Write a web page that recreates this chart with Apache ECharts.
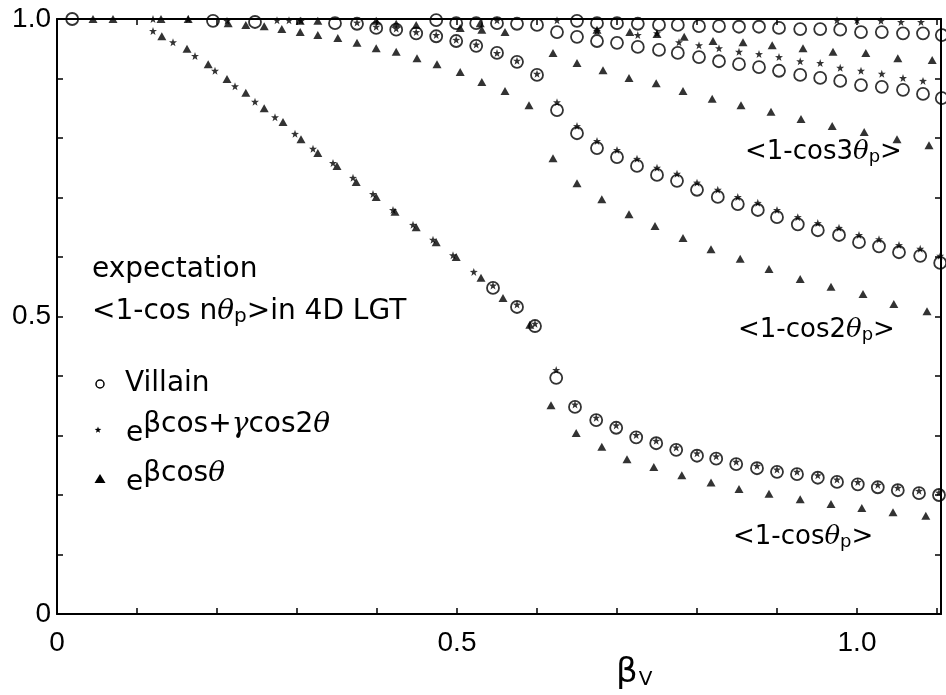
<!DOCTYPE html>
<html>
<head>
<meta charset="utf-8">
<script src="https://cdn.jsdelivr.net/npm/echarts/dist/echarts.min.js"></script>
<style>
  html, body { margin: 0; padding: 0; background: #fff; }
  #chart { width: 946px; height: 695px; }
</style>
</head>
<body>
<div id="chart"></div>
<script>
// <1 - cos n theta_p> versus beta_V, three actions, n = 1..4
// Each array holds [beta_V, expectation] pairs.

// n = 1
const villainN1 = [[0.019,1.0],[0.545,0.548],[0.575,0.516],[0.5975,0.484],[0.624,0.397],[0.6475,0.348],[0.674,0.326],[0.699,0.313],[0.724,0.297],[0.749,0.287],[0.774,0.276],[0.80,0.266],[0.824,0.261],[0.849,0.252],[0.875,0.245],[0.90,0.239],[0.925,0.235],[0.951,0.229],[0.975,0.222],[1.001,0.218],[1.026,0.213],[1.051,0.208],[1.0775,0.203],[1.1025,0.200]];
const mixedN1 = [[0.12,0.980],[0.145,0.961],[0.1725,0.938],[0.1975,0.913],[0.2225,0.887],[0.2475,0.861],[0.2725,0.835],[0.2975,0.807],[0.32,0.782],[0.345,0.758],[0.37,0.733],[0.395,0.706],[0.42,0.679],[0.445,0.654],[0.47,0.629],[0.495,0.603],[0.521,0.575],[0.545,0.552],[0.575,0.520],[0.5975,0.488],[0.624,0.410],[0.6475,0.352],[0.674,0.330],[0.699,0.317],[0.724,0.301],[0.749,0.291],[0.774,0.280],[0.80,0.270],[0.824,0.265],[0.849,0.256],[0.875,0.249],[0.90,0.243],[0.925,0.239],[0.951,0.233],[0.975,0.226],[1.001,0.222],[1.026,0.217],[1.051,0.212],[1.0775,0.207],[1.1025,0.204]];
const cosineN1 = [[0.045,1.0],[0.07,1.0],[0.131,0.971],[0.1625,0.950],[0.189,0.924],[0.2125,0.899],[0.236,0.876],[0.259,0.850],[0.2825,0.827],[0.305,0.798],[0.326,0.775],[0.35,0.753],[0.374,0.726],[0.399,0.701],[0.4225,0.676],[0.449,0.650],[0.474,0.625],[0.499,0.600],[0.53,0.565],[0.5575,0.531],[0.591,0.486],[0.6175,0.351],[0.649,0.304],[0.681,0.281],[0.7125,0.260],[0.746,0.247],[0.781,0.233],[0.8175,0.221],[0.8525,0.210],[0.89,0.202],[0.929,0.193],[0.9675,0.185],[1.006,0.178],[1.045,0.171],[1.086,0.165]];

// n = 2
const villainN2 = [[0.195,0.997],[0.2475,0.995],[0.3475,0.993],[0.375,0.992],[0.399,0.985],[0.424,0.982],[0.449,0.976],[0.474,0.971],[0.499,0.963],[0.524,0.955],[0.55,0.943],[0.575,0.928],[0.60,0.906],[0.625,0.847],[0.65,0.808],[0.675,0.783],[0.70,0.768],[0.725,0.753],[0.75,0.738],[0.775,0.728],[0.80,0.713],[0.826,0.701],[0.851,0.689],[0.876,0.679],[0.90,0.667],[0.926,0.655],[0.951,0.645],[0.9775,0.637],[1.0025,0.625],[1.0275,0.618],[1.0525,0.608],[1.079,0.602],[1.104,0.590]];
const mixedN2 = [[0.12,1.0],[0.164,1.0],[0.2125,0.997],[0.275,0.998],[0.29,0.998],[0.305,0.997],[0.375,0.994],[0.399,0.987],[0.424,0.984],[0.449,0.978],[0.474,0.973],[0.499,0.965],[0.524,0.957],[0.55,0.943],[0.575,0.930],[0.60,0.908],[0.625,0.860],[0.65,0.820],[0.675,0.795],[0.70,0.780],[0.725,0.765],[0.75,0.750],[0.775,0.740],[0.80,0.725],[0.826,0.713],[0.851,0.701],[0.876,0.691],[0.90,0.679],[0.926,0.667],[0.951,0.657],[0.9775,0.649],[1.0025,0.637],[1.0275,0.630],[1.0525,0.620],[1.079,0.614],[1.104,0.602]];
const cosineN2 = [[0.13,1.0],[0.164,1.0],[0.214,0.993],[0.236,0.990],[0.259,0.988],[0.281,0.983],[0.304,0.978],[0.326,0.973],[0.351,0.968],[0.375,0.960],[0.399,0.951],[0.424,0.945],[0.45,0.934],[0.475,0.924],[0.504,0.911],[0.531,0.894],[0.56,0.879],[0.59,0.855],[0.62,0.766],[0.65,0.724],[0.681,0.697],[0.715,0.672],[0.7475,0.652],[0.7825,0.632],[0.8175,0.613],[0.854,0.597],[0.89,0.580],[0.929,0.563],[0.9675,0.550],[1.0075,0.538],[1.046,0.521],[1.0875,0.509]];

// n = 3
const villainN3 = [[0.625,0.978],[0.65,0.970],[0.675,0.963],[0.70,0.960],[0.726,0.953],[0.7525,0.948],[0.776,0.943],[0.8025,0.936],[0.8275,0.929],[0.8525,0.924],[0.8775,0.919],[0.9025,0.913],[0.929,0.906],[0.954,0.901],[0.979,0.896],[1.005,0.889],[1.031,0.886],[1.0575,0.881],[1.0825,0.874],[1.106,0.867]];
const mixedN3 = [[0.55,0.998],[0.675,0.98],[0.726,0.973],[0.75,0.976],[0.7775,0.961],[0.8025,0.956],[0.8275,0.951],[0.8525,0.945],[0.8775,0.941],[0.9025,0.936],[0.929,0.929],[0.954,0.926],[0.979,0.918],[1.005,0.913],[1.031,0.908],[1.0575,0.901],[1.0825,0.896]];
const cosineN3 = [[0.304,0.997],[0.326,0.997],[0.399,0.997],[0.424,0.992],[0.449,0.990],[0.504,0.985],[0.531,0.982],[0.56,0.978],[0.62,0.943],[0.65,0.926],[0.6825,0.914],[0.715,0.901],[0.749,0.892],[0.7825,0.879],[0.819,0.866],[0.855,0.855],[0.8925,0.844],[0.93,0.832],[0.969,0.820],[1.009,0.810],[1.05,0.798],[1.09,0.788]];

// n = 4
const villainN4 = [[0.474,0.998],[0.499,0.993],[0.524,0.993],[0.55,0.993],[0.575,0.992],[0.60,0.990],[0.65,0.997],[0.675,0.993],[0.70,0.993],[0.726,0.992],[0.7525,0.990],[0.776,0.990],[0.8025,0.988],[0.8275,0.988],[0.8525,0.987],[0.8775,0.987],[0.9025,0.985],[0.929,0.983],[0.954,0.983],[0.979,0.982],[1.005,0.978],[1.031,0.978],[1.0575,0.976],[1.0825,0.976],[1.106,0.973]];
const mixedN4 = [[0.625,0.998],[0.975,0.998],[1.0,0.998],[1.03,0.997],[1.055,0.995],[1.08,0.995]];
const cosineN4 = [[0.529,0.993],[0.675,0.982],[0.716,0.978],[0.75,0.975],[0.784,0.970],[0.82,0.963],[0.8575,0.961],[0.894,0.956],[0.9325,0.951],[0.97,0.945],[1.011,0.943],[1.051,0.934],[1.094,0.931]];

// Axis ranges and labelled ticks
const xRange = [0, 1.105];
const yRange = [0, 1.0];
const xTickLabels = [[0, '0'], [0.5, '0.5'], [1.0, '1.0']];
const yTickLabels = [[0, '0'], [0.5, '0.5'], [1.0, '1.0']];

const STAR = 'path://M0,-10L2.35,-3.24L9.51,-3.09L3.8,1.24L5.88,8.09L0,4.1L-5.88,8.09L-3.8,1.24L-9.51,-3.09L-2.35,-3.24Z';
const INK = '#000';

function tickFormatter(list) {
  return function (v) {
    for (const [val, txt] of list) if (Math.abs(v - val) < 1e-6) return txt;
    return '';
  };
}

function villain(data) {
  return { type: 'scatter', data, symbol: 'circle', symbolSize: 12, clip: false, z: 3,
    silent: true, itemStyle: { color: 'rgba(0,0,0,0)', borderColor: INK, borderWidth: 1.8 } };
}
function mixed(data) {
  return { type: 'scatter', data, symbol: STAR, symbolSize: 8, clip: false, z: 4,
    silent: true, itemStyle: { color: INK } };
}
function cosine(data) {
  return { type: 'scatter', data, symbol: 'triangle', symbolSize: [9, 8], clip: false, z: 4,
    silent: true, itemStyle: { color: INK } };
}

const sans = '"DejaVu Sans", sans-serif';
const axisFont = '"Liberation Sans", Arial, sans-serif';

function axisCommon(extra) {
  return Object.assign({
    type: 'value',
    splitLine: { show: false },
    axisLine: { show: true, onZero: false, lineStyle: { color: INK, width: 2 } },
    axisTick: { show: true, inside: true, length: 6, lineStyle: { color: INK, width: 1.5 } },
  }, extra);
}

const chart = echarts.init(document.getElementById('chart'), null, { renderer: 'canvas' });

const texts = [];
function label(x, y, text, rich, size) {
  texts.push({
    type: 'text', x, y, silent: true,
    style: { text, font: size + 'px ' + sans, fill: INK, textVerticalAlign: 'middle', rich }
  });
}

const thetaRich = function (size) {
  return {
    n: { fontFamily: sans, fontSize: size, color: INK },
    t: { fontFamily: '"DejaVu Serif", serif', fontStyle: 'italic', fontSize: size, color: INK },
    s: { fontFamily: sans, fontSize: Math.round(size * 0.7), color: INK, padding: [10, 0, 0, 0] },
    u: { fontFamily: sans, fontSize: size, color: INK, padding: [0, 0, 18, 0] },
    ut: { fontFamily: '"DejaVu Serif", serif', fontStyle: 'italic', fontSize: size, color: INK, padding: [0, 0, 18, 0] }
  };
};

// Curve captions
label(745, 152, '{n|<1-cos3}{t|θ}{s|p}{n|>}', thetaRich(26), 26);
label(738, 330, '{n|<1-cos2}{t|θ}{s|p}{n|>}', thetaRich(26), 26);
label(733, 537, '{n|<1-cos}{t|θ}{s|p}{n|>}', thetaRich(26), 26);

// Legend block
label(92, 270, '{n|expectation}', thetaRich(28), 28);
label(92, 312, '{n|<1-cos n}{t|θ}{s|p}{n|>in 4D LGT}', thetaRich(28), 28);
label(125, 384, '{n|Villain}', thetaRich(28), 28);
label(126, 434, '{n|e}{u|βcos+}{ut|γ}{u|cos2}{ut|θ}', thetaRich(28), 28);
label(126, 483, '{n|e}{u|βcos}{ut|θ}', thetaRich(28), 28);

// Legend markers
function starPoints(cx, cy, r) {
  const pts = [];
  for (let i = 0; i < 10; i++) {
    const a = -Math.PI / 2 + i * Math.PI / 5;
    const rr = i % 2 === 0 ? r : r * 0.4;
    pts.push([cx + rr * Math.cos(a), cy + rr * Math.sin(a)]);
  }
  return pts;
}
texts.push({ type: 'circle', silent: true, shape: { cx: 100, cy: 384, r: 4 },
  style: { fill: 'none', stroke: INK, lineWidth: 1.5 } });
texts.push({ type: 'polygon', silent: true, shape: { points: starPoints(98, 430, 3.5) },
  style: { fill: INK } });
texts.push({ type: 'polygon', silent: true, shape: { points: [[100, 474], [105.5, 483], [94.5, 483]] },
  style: { fill: INK } });

// Axis title beta_V
texts.push({
  type: 'text', x: 616, y: 673, silent: true,
  style: { text: '{b|β}{v|V}', textVerticalAlign: 'middle',
    rich: { b: { fontFamily: sans, fontSize: 34, color: INK },
            v: { fontFamily: sans, fontSize: 20, color: INK, padding: [14, 0, 0, 1] } } }
});

chart.setOption({
  animation: false,
  backgroundColor: '#fff',
  grid: { left: 57, top: 19, width: 884, height: 595, containLabel: false, outerBoundsMode: 'none' },
  xAxis: [
    axisCommon({ min: xRange[0], max: xRange[1], interval: 0.1, position: 'bottom',
      axisLabel: { show: true, margin: 15, color: INK, fontSize: 28, fontFamily: axisFont,
        formatter: tickFormatter(xTickLabels), showMaxLabel: false } }),
    axisCommon({ min: xRange[0], max: xRange[1], interval: 0.1, position: 'top',
      axisLabel: { show: false } })
  ],
  yAxis: [
    axisCommon({ min: yRange[0], max: yRange[1], interval: 0.1, position: 'left',
      axisLabel: { show: true, margin: 6, color: INK, fontSize: 28, fontFamily: axisFont,
        formatter: tickFormatter(yTickLabels) } }),
    axisCommon({ min: yRange[0], max: yRange[1], interval: 0.1, position: 'right',
      axisLabel: { show: false } })
  ],
  graphic: texts,
  series: [
    villain(villainN1), villain(villainN2), villain(villainN3), villain(villainN4),
    cosine(cosineN1), cosine(cosineN2), cosine(cosineN3), cosine(cosineN4),
    mixed(mixedN1), mixed(mixedN2), mixed(mixedN3), mixed(mixedN4)
  ]
});
</script>
</body>
</html>
